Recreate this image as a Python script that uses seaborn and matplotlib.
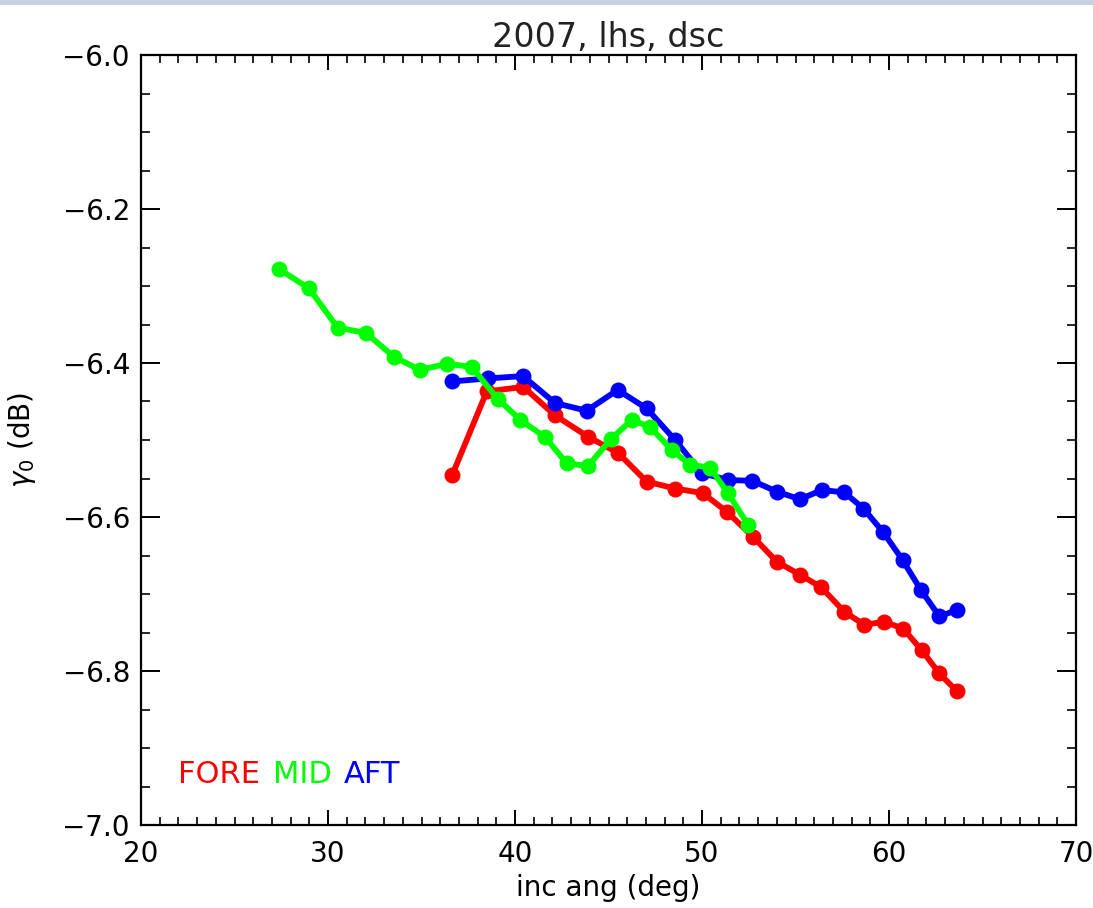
import numpy as np
import pandas as pd
import matplotlib
matplotlib.use("Agg")
import matplotlib.pyplot as plt
from matplotlib.ticker import MultipleLocator, FuncFormatter
from matplotlib.patches import Rectangle
import seaborn as sns

# ---- data ----
fore_x = [36.65, 38.49, 40.44, 42.14, 43.92, 45.52, 47.04, 48.56, 50.04, 51.32, 52.74,
          54.00, 55.24, 56.36, 57.61, 58.68, 59.75, 60.76, 61.75, 62.69, 63.62]
fore_y = [-6.545, -6.437, -6.431, -6.468, -6.496, -6.517, -6.554, -6.563, -6.569, -6.593, -6.626,
          -6.658, -6.675, -6.691, -6.723, -6.740, -6.736, -6.745, -6.773, -6.803, -6.826]

mid_x = [27.38, 28.98, 30.51, 32.03, 33.53, 34.92, 36.35, 37.68, 39.09, 40.29, 41.60,
         42.76, 43.90, 45.12, 46.24, 47.22, 48.38, 49.36, 50.43, 51.39, 52.46]
mid_y = [-6.278, -6.303, -6.354, -6.361, -6.392, -6.409, -6.401, -6.405, -6.447, -6.474, -6.496,
         -6.530, -6.534, -6.499, -6.474, -6.483, -6.513, -6.532, -6.536, -6.569, -6.610]

aft_x = [36.63, 38.57, 40.43, 42.14, 43.83, 45.49, 47.04, 48.56, 49.99, 51.41, 52.70,
         54.00, 55.24, 56.40, 57.61, 58.63, 59.70, 60.73, 61.71, 62.69, 63.62]
aft_y = [-6.424, -6.420, -6.417, -6.452, -6.462, -6.435, -6.459, -6.500, -6.543, -6.552, -6.553,
         -6.567, -6.577, -6.565, -6.568, -6.589, -6.620, -6.656, -6.695, -6.729, -6.721]

series_names = ["FORE", "MID", "AFT"]
series_colors = ["#ff0000", "#00ff00", "#0000ff"]

title = "2007, lhs, dsc"
x_label = "inc ang (deg)"
y_label = r"$\gamma_0$ (dB)"

df = pd.concat([
    pd.DataFrame({"x": fore_x, "y": fore_y, "beam": "FORE"}),
    pd.DataFrame({"x": mid_x, "y": mid_y, "beam": "MID"}),
    pd.DataFrame({"x": aft_x, "y": aft_y, "beam": "AFT"}),
], ignore_index=True)

sns.set_theme(style="white")
plt.rcParams["font.family"] = ["DejaVu Sans"]
plt.rcParams["mathtext.fontset"] = "dejavusans"

W, H = 1093, 908
fig = plt.figure(figsize=(W / 100, H / 100), dpi=100)
fig.patch.set_facecolor("white")
L, R, T, B = 141, 1076, 55, 825
ax = fig.add_axes([L / W, 1 - B / H, (R - L) / W, (B - T) / H])

# thin window-frame band at top
fig.patches.append(Rectangle((0, 1 - 5 / H), 1, 5 / H, transform=fig.transFigure,
                             facecolor="#c9d1e0", edgecolor="none", zorder=0))

palette = dict(zip(series_names, series_colors))
sns.lineplot(data=df, x="x", y="y", hue="beam", hue_order=["FORE", "AFT", "MID"],
             palette=palette, estimator=None, sort=False, marker="o",
             markersize=11.5, markeredgewidth=0, linewidth=4.2, legend=False, ax=ax)

ax.set_xlim(20, 70)
ax.set_ylim(-7.0, -6.0)
ax.xaxis.set_major_locator(MultipleLocator(10))
ax.xaxis.set_minor_locator(MultipleLocator(1))
ax.yaxis.set_major_locator(MultipleLocator(0.2))
ax.yaxis.set_minor_locator(MultipleLocator(0.05))
ax.yaxis.set_major_formatter(FuncFormatter(lambda v, p: f"{v:.1f}".replace("-", "\u2212")))
ax.xaxis.set_major_formatter(FuncFormatter(lambda v, p: f"{v:.0f}"))

for s in ax.spines.values():
    s.set_visible(True)
    s.set_color("black")
    s.set_linewidth(1.6)

ax.tick_params(axis="x", which="major", direction="in", length=11, width=1.4,
               top=True, bottom=True, labelsize=20, pad=11, colors="black")
ax.tick_params(axis="x", which="minor", direction="in", length=5.5, width=1.4,
               top=True, bottom=True)
ax.tick_params(axis="y", which="major", direction="in", length=13.5, width=1.4,
               left=True, right=True, labelsize=20, pad=8, colors="black")
ax.tick_params(axis="y", which="minor", direction="in", length=6.7, width=1.4,
               left=True, right=True)
ax.grid(False)

ax.set_xlabel(x_label, fontsize=20, color="black")
ax.xaxis.set_label_coords(0.5, -0.064)
ax.set_ylabel(y_label, fontsize=20, color="black")
ax.yaxis.set_label_coords(-0.11, 0.5)
ax.set_title(title, fontsize=24, color="#222222", pad=6)

# coloured legend words
xpos = 0.04
for name, col in zip(series_names, series_colors):
    t = ax.text(xpos, 0.065, name, color=col, fontsize=22, transform=ax.transAxes,
                va="center", ha="left")
    fig.canvas.draw()
    bb = t.get_window_extent()
    xpos = ax.transAxes.inverted().transform((bb.x1, bb.y0))[0] + 0.013

fig.savefig("out.png", dpi=100, facecolor="white")
